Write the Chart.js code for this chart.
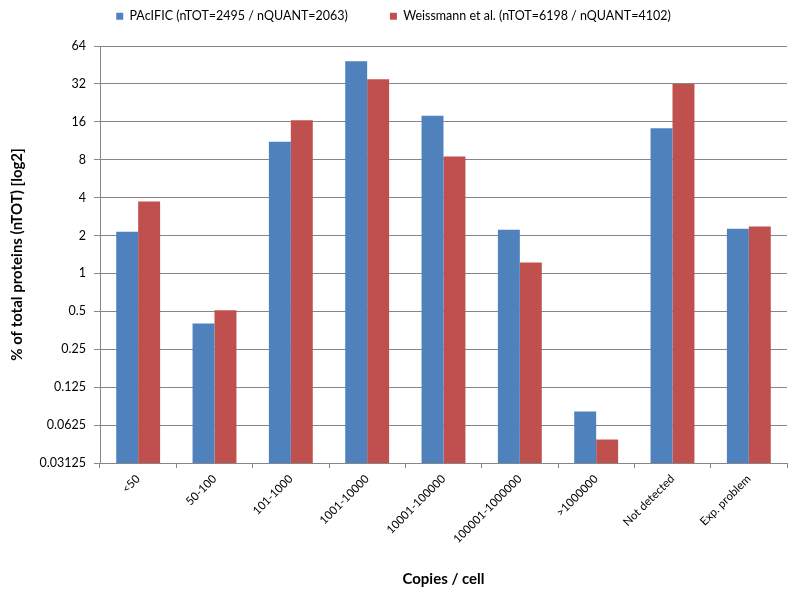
<!DOCTYPE html>
<html>
<head>
<meta charset="utf-8">
<script src="https://cdn.jsdelivr.net/npm/chart.js@4/dist/chart.umd.min.js"></script>
<style>
html,body{margin:0;padding:0;background:#fff;}
#wrap{width:800px;height:594px;}
</style>
</head>
<body>
<div id="wrap"><canvas id="c" width="800" height="594"></canvas></div>
<script>
const categories = ["<50","50-100","101-1000","1001-10000","10001-100000","100001-1000000",">1000000","Not detected","Exp. problem"];
const pacificValues = [2.14, 0.40, 11.1, 48.4, 17.9, 2.22, 0.080, 14.2, 2.26];
const weissmannValues = [3.72, 0.51, 16.5, 34.8, 8.5, 1.22, 0.048, 32.0, 2.36];
const yTicks = [0.03125, 0.0625, 0.125, 0.25, 0.5, 1, 2, 4, 8, 16, 32, 64];
const seriesNames = ["PAcIFIC (nTOT=2495 / nQUANT=2063)", "Weissmann et al. (nTOT=6198 / nQUANT=4102)"];

const FONT = "Lato, 'Open Sans', sans-serif";
Chart.defaults.font.family = FONT;
Chart.defaults.color = "#000";

const LEGEND_PAD = 42;
const legendSpace = {
  id: 'legendSpace',
  beforeInit(chart) {
    const lg = chart.legend;
    const origFit = lg.fit;
    lg.fit = function() { origFit.call(this); this.height = 46; };
    const origDraw = lg.draw;
    lg.draw = function() {
      const savedTop = this.top;
      this.top = savedTop - (LEGEND_PAD - 10);
      origDraw.apply(this, arguments);
      this.top = savedTop;
    };
  }
};

new Chart(document.getElementById('c'), {
  type: 'bar',
  data: {
    labels: categories,
    datasets: [
      {label: seriesNames[0], data: pacificValues, backgroundColor: '#4F81BD', categoryPercentage: 0.575, barPercentage: 1.0},
      {label: seriesNames[1], data: weissmannValues, backgroundColor: '#C0504D', categoryPercentage: 0.575, barPercentage: 1.0}
    ]
  },
  plugins: [legendSpace],
  options: {
    responsive: false,
    animation: false,
    devicePixelRatio: 1,
    layout: {padding: {left: 0, right: 13, top: 0, bottom: 0}},
    plugins: {
      legend: {
        position: 'top',
        labels: {boxWidth: 7, boxHeight: 7, padding: LEGEND_PAD, font: {size: 12.5}, color: '#000'}
      },
      tooltip: {enabled: false}
    },
    scales: {
      x: {
        offset: true,
        grid: {display: true, drawOnChartArea: false, offset: true, tickLength: 5, color: '#868686'},
        border: {display: true, color: '#868686'},
        ticks: {maxRotation: 45, minRotation: 45, font: {size: 11.5}, color: '#000', padding: 4},
        title: {display: true, text: 'Copies / cell', font: {size: 15, weight: 'bold'}, color: '#000', padding: {top: 4, bottom: 6}},
        afterFit: s => { s.height = 131; }
      },
      y: {
        type: 'logarithmic',
        min: 0.03125,
        max: 64,
        afterBuildTicks: s => { s.ticks = yTicks.map(v => ({value: v})); },
        grid: {color: '#868686', tickLength: 6},
        border: {display: true, color: '#868686'},
        ticks: {font: {size: 12.5}, color: '#000', padding: 8, callback: v => String(v)},
        title: {display: true, text: '% of total proteins (nTOT) [log2]', font: {size: 15, weight: 'bold'}, color: '#000', padding: {top: 8, bottom: 4}},
        afterFit: s => { s.width = 100; }
      }
    }
  }
});
</script>
</body>
</html>
